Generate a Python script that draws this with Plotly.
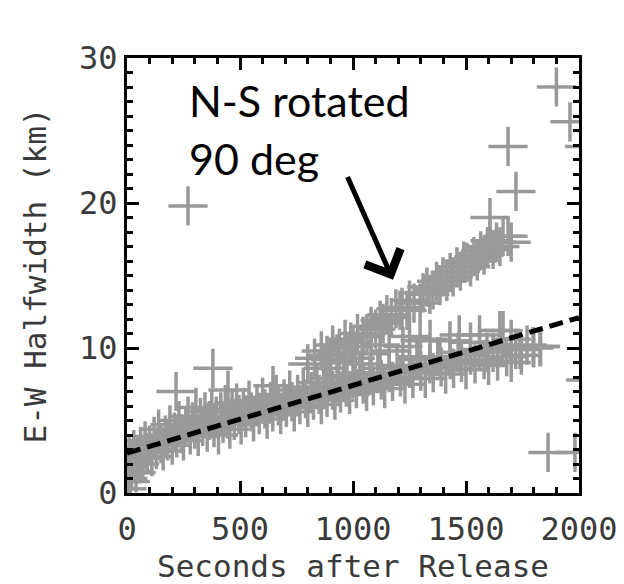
import plotly.graph_objects as go

# ---- data ----
lower_x = [0, 3, 6, 10, 15, 20, 25, 30, 40, 45, 55, 60, 70, 80, 90, 100, 110, 120, 130, 140,
           150, 160, 170, 180, 190, 200, 210, 220, 230, 240, 250, 260, 270, 280, 290, 300, 305,
           315, 325, 335, 345, 355, 365, 375, 385, 395, 405, 415, 425, 435, 445, 455, 465, 475,
           485, 495, 505, 515, 525, 540, 550, 560, 575, 585, 600, 610, 620, 635, 645, 660, 670,
           680, 695, 705, 720, 730, 740, 755, 765, 780, 790, 800, 815, 825, 840, 850, 860, 875,
           885, 900, 910, 920, 935, 945, 960, 970, 985, 1000, 1015, 1030, 1045, 1060, 1075, 1090,
           1110, 1125, 1140, 1160, 1175, 1195, 1210, 1230, 1250, 1265, 1285, 1300, 1320, 1340,
           1355, 1375, 1390, 1410, 1430, 1445, 1465, 1480, 1500, 1520, 1540, 1560, 1580, 1600,
           1620, 1640, 1660, 1680, 1700, 1720, 1745, 1770, 1800, 1830]
lower_y = [0.3, 1.0, 1.8, 2.5, 0.8, 1.5, 2.2, 3.0, 1.4, 2.6, 2.0, 3.2, 2.4, 3.6, 2.8, 3.3, 2.5,
           3.9, 3.0, 4.4, 3.4, 2.9, 4.0, 3.6, 4.7, 3.3, 4.2, 3.8, 5.0, 4.1, 3.6, 4.6, 5.3, 4.0,
           4.9, 4.4, 5.9, 3.9, 5.2, 4.6, 5.6, 4.2, 5.0, 5.8, 4.5, 5.3, 4.0, 5.6, 4.8, 6.1, 5.1,
           4.4, 5.7, 5.0, 6.2, 5.4, 4.7, 5.9, 5.2, 6.4, 5.6, 4.9, 6.0, 5.4, 6.6, 5.8, 5.1, 6.3,
           5.6, 6.8, 6.0, 5.4, 6.5, 5.9, 7.1, 6.3, 5.6, 6.8, 6.1, 7.3, 6.5, 5.9, 7.0, 6.4, 7.6,
           6.8, 6.1, 7.3, 6.6, 7.9, 7.1, 6.4, 7.6, 6.9, 8.1, 7.3, 6.8, 7.9, 7.2, 8.3, 7.5, 7.0,
           8.1, 7.4, 8.6, 7.8, 7.2, 8.3, 7.7, 8.8, 8.0, 7.5, 8.6, 7.9, 9.2, 8.4, 7.9, 8.9, 8.3,
           9.4, 8.7, 8.2, 9.2, 8.6, 9.7, 9.0, 8.5, 9.5, 8.9, 9.9, 9.2, 8.8, 9.7, 9.1, 10.1, 9.4,
           9.0, 9.9, 9.5, 10.2, 10.0, 10.1]

mid_x = [870, 900, 929, 960, 973, 1010, 1040, 1080, 1120, 1160, 1221, 1250, 1283, 1297, 1341,
         1385, 1429, 1470, 1520, 1560, 1593, 1650, 1664, 1700, 1739, 1797, 1827]
mid_y = [8.6, 9.2, 9.6, 9.0, 9.7, 9.3, 8.9, 9.6, 10.2, 9.8, 10.1, 10.8, 9.4, 10.5, 10.6, 9.4,
         10.5, 10.9, 10.4, 10.9, 9.7, 11.2, 11.2, 10.6, 9.9, 10.1, 10.1]

upper_x = [800, 830, 860, 885, 910, 940, 965, 990, 1000, 1020, 1045, 1062, 1080, 1100, 1120,
           1133, 1150, 1170, 1190, 1208, 1217, 1239, 1250, 1270, 1297, 1310, 1327, 1340, 1354,
           1370, 1385, 1398, 1415, 1430, 1443, 1460, 1475, 1490, 1504, 1520, 1535, 1550, 1565,
           1580, 1595, 1606, 1620, 1635, 1650, 1664, 1686, 1700]
upper_y = [8.9, 9.3, 9.8, 9.5, 10.2, 10.0, 10.6, 10.4, 10.1, 11.0, 10.8, 11.0, 11.5, 11.3, 11.9,
           11.7, 12.3, 12.1, 12.7, 12.6, 12.8, 12.6, 13.3, 13.1, 13.1, 13.8, 14.2, 13.7, 14.0,
           14.6, 14.3, 14.9, 14.6, 15.2, 14.9, 15.6, 15.3, 16.0, 15.9, 15.6, 16.3, 16.0, 16.7,
           16.4, 17.0, 17.4, 16.8, 17.3, 17.0, 17.7, 17.7, 17.3]

outlier_x = [217, 380, 447, 646, 270, 1606, 1686, 1721, 1900, 1960, 2025, 1863, 1982, 2030]
outlier_y = [7.0, 8.6, 7.1, 7.4, 19.8, 19.0, 23.9, 20.8, 28.0, 25.6, 23.9, 2.8, 2.8, 7.8]

fit_x = [0, 2000]
fit_y = [2.75, 12.1]

x_ticks = [0, 500, 1000, 1500, 2000]
y_ticks = [0, 10, 20, 30]

arrow_tail = (973, 21.9)
arrow_tip = (1177, 14.7)

all_x = lower_x + mid_x + upper_x + outlier_x
all_y = lower_y + mid_y + upper_y + outlier_y

fig = go.Figure()
fig.add_trace(go.Scatter(
    x=all_x, y=all_y, mode="markers",
    marker=dict(symbol="cross-thin", size=28, color="#999999",
                line=dict(width=3.5, color="#999999")),
    showlegend=False, hoverinfo="skip"))
fig.add_trace(go.Scatter(
    x=fit_x, y=fit_y, mode="lines",
    line=dict(color="black", width=5, dash="14px,7px"),
    showlegend=False, hoverinfo="skip"))
# invisible trace to activate the mirrored (top/right) tick axes
fig.add_trace(go.Scatter(x=fit_x, y=fit_y, xaxis="x2", yaxis="y2", mode="lines",
                         line=dict(width=0), opacity=0, showlegend=False, hoverinfo="skip"))

FONT = "DejaVu Sans Mono"
tickfont = dict(family=FONT, size=32, color="#3a3a3a")
titlefont = dict(family=FONT, size=31, color="#3a3a3a")
tick_style = dict(ticks="inside", ticklen=12, tickwidth=3, tickcolor="black")

fig.update_layout(
    width=624, height=584,
    margin=dict(l=127, r=45, t=58, b=91),
    paper_bgcolor="white", plot_bgcolor="white",
    xaxis=dict(range=[0, 2000], tickvals=x_ticks, ticktext=[str(v) for v in x_ticks],
               showline=True, linewidth=3, linecolor="black", mirror=True, automargin=False,
               showgrid=False, zeroline=False, tickfont=tickfont, ticklabelstandoff=6,
               minor=dict(dtick=100, tick0=0, ticks="inside", ticklen=6, tickwidth=3,
                          tickcolor="black", showgrid=False),
               title=dict(text="Seconds after Release", font=titlefont, standoff=10),
               **tick_style),
    yaxis=dict(range=[0, 30], tickvals=y_ticks, ticktext=[str(v) for v in y_ticks],
               showline=True, linewidth=3, linecolor="black", mirror=True, automargin=False,
               showgrid=False, zeroline=False, tickfont=tickfont,
               minor=dict(dtick=1, tick0=0, ticks="inside", ticklen=6, tickwidth=3,
                          tickcolor="black", showgrid=False),
               title=dict(text="E-W Halfwidth (km)", font=titlefont, standoff=24),
               **tick_style),
    xaxis2=dict(range=[0, 2000], overlaying="x", side="top", tickvals=x_ticks,
                showticklabels=False, showline=False, showgrid=False, zeroline=False,
                automargin=False,
                minor=dict(dtick=100, tick0=0, ticks="inside", ticklen=6, tickwidth=3,
                           tickcolor="black", showgrid=False),
                **tick_style),
    yaxis2=dict(range=[0, 30], overlaying="y", side="right", tickvals=y_ticks,
                showticklabels=False, showline=False, showgrid=False, zeroline=False,
                automargin=False,
                minor=dict(dtick=1, tick0=0, ticks="inside", ticklen=6, tickwidth=3,
                           tickcolor="black", showgrid=False),
                **tick_style),
)

fig.add_annotation(x=265, y=27.1, xref="x", yref="y", text="N-S rotated",
                   showarrow=False, xanchor="left", yanchor="middle",
                   font=dict(family="Lato", size=43, color="black"))
fig.add_annotation(x=265, y=23.1, xref="x", yref="y", text="90 deg",
                   showarrow=False, xanchor="left", yanchor="middle",
                   font=dict(family="Lato", size=43, color="black"))
fig.add_annotation(x=arrow_tip[0], y=arrow_tip[1], xref="x", yref="y",
                   ax=arrow_tail[0], ay=arrow_tail[1], axref="x", ayref="y",
                   text="", showarrow=True, arrowhead=4, arrowsize=1.5,
                   arrowwidth=5, arrowcolor="black")

fig.write_html("out.html")
